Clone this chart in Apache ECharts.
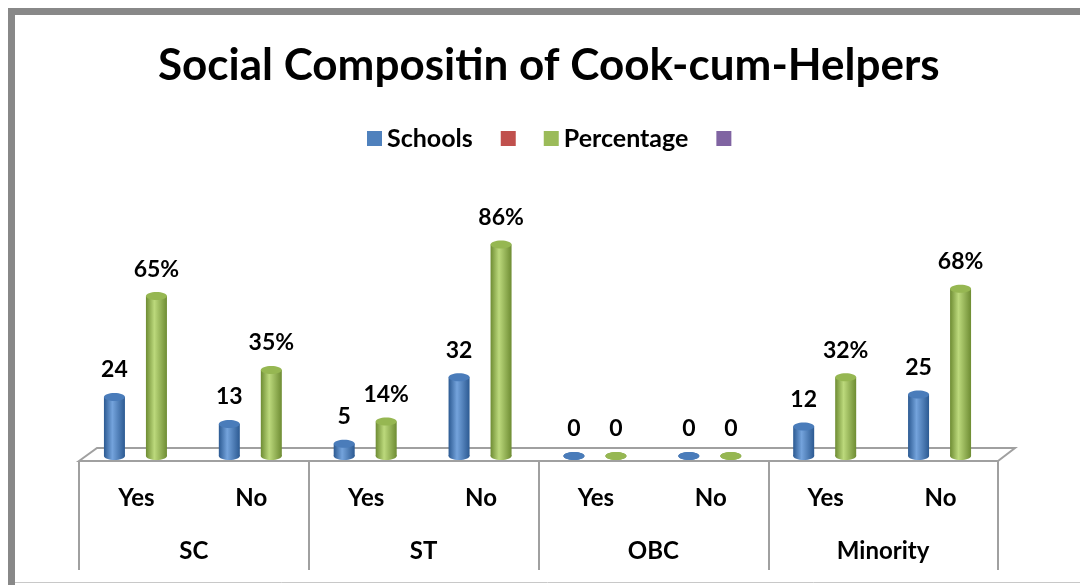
<!DOCTYPE html>
<html>
<head>
<meta charset="utf-8">
<script src="https://cdn.jsdelivr.net/npm/echarts@6/dist/echarts.min.js"></script>
<style>html,body{margin:0;padding:0;background:#fff;}#c{width:1080px;height:585px;}</style>
</head>
<body>
<div id="c"></div>
<script>
const groups = ['SC', 'ST', 'OBC', 'Minority'];
const subLabels = ['Yes', 'No', 'Yes', 'No', 'Yes', 'No', 'Yes', 'No'];
const schools = [24, 13, 5, 32, 0, 0, 12, 25];
const percentage = [65, 35, 14, 86, 0, 0, 32, 68];
const seriesNames = ['Schools', 'S2', 'Percentage', 'S4'];

const FONT = 'Lato';
const chart = echarts.init(document.getElementById('c'));

function cylinder(offset, dark, light, main, topColor, fmt) {
  return function (params, api) {
    const idx = api.value(0), v = api.value(1);
    const top = api.coord([idx, v]);
    const base = api.coord([idx, 0]);
    const w = 21, ry = 4;
    const x = top[0] + offset;
    const children = [];
    const grad = new echarts.graphic.LinearGradient(0, 0, 1, 0, [
      {offset: 0, color: dark}, {offset: 0.4, color: light}, {offset: 1, color: dark}
    ]);
    children.push({type: 'ellipse', shape: {cx: x, cy: base[1], rx: w / 2, ry: ry}, style: {fill: grad}});
    if (base[1] - top[1] > 0.5) {
      children.push({type: 'rect', shape: {x: x - w / 2, y: top[1], width: w, height: base[1] - top[1]}, style: {fill: grad}});
    }
    children.push({type: 'ellipse', shape: {cx: x, cy: top[1], rx: w / 2, ry: ry}, style: {fill: topColor}});
    children.push({type: 'text', style: {text: fmt(v), x: x, y: top[1] - 27, align: 'center', verticalAlign: 'middle',
      font: 'bold 23px ' + FONT, fill: '#000'}});
    return {type: 'group', children: children};
  };
}

const option = {
  animation: false,
  color: ['#4F81BD', '#C0504D', '#9BBB59', '#8064A2'],
  title: {
    text: 'Social Compositin of Cook-cum-Helpers',
    left: 153, top: 39,
    textStyle: {fontFamily: FONT, fontWeight: 'bold', fontSize: 44, color: '#000'}
  },
  legend: {
    data: seriesNames,
    top: 121, left: 362,
    icon: 'rect', itemWidth: 15, itemHeight: 15, itemGap: 28,
    formatter: function (n) { return (n === 'S2' || n === 'S4') ? '' : n; },
    textStyle: {fontFamily: FONT, fontWeight: 'bold', fontSize: 25, color: '#000'}
  },
  grid: {left: 79, right: 82, top: 210, bottom: 129},
  xAxis: [
    {type: 'category', data: subLabels, position: 'bottom',
      axisLine: {show: false}, axisTick: {show: false},
      axisLabel: {margin: 30, fontFamily: FONT, fontWeight: 'bold', fontSize: 24, color: '#000'}},
    {type: 'category', data: groups, position: 'bottom', offset: 5,
      axisLine: {show: false},
      axisTick: {show: true, length: 109, lineStyle: {color: '#a0a0a0', width: 2}},
      axisLabel: {margin: 78, fontFamily: FONT, fontWeight: 'bold', fontSize: 24, color: '#000'}}
  ],
  yAxis: {type: 'value', min: 0, max: 100, show: false, splitLine: {show: false}},
  graphic: [
    {type: 'rect', shape: {x: 8, y: 8, width: 1080, height: 7}, style: {fill: '#888888'}, z: 0},
    {type: 'rect', shape: {x: 8, y: 8, width: 7, height: 585}, style: {fill: '#888888'}, z: 0},
    {type: 'line', shape: {x1: 15, y1: 582.5, x2: 1080, y2: 582.5}, style: {stroke: '#c8c8c8', lineWidth: 1}, z: 0},
    {type: 'polygon', shape: {points: [[79, 461], [97, 448], [1015, 448], [998, 461]]},
      style: {fill: '#ffffff', stroke: '#a0a0a0', lineWidth: 2}, z: 0}
  ],
  series: [
    {name: 'Schools', type: 'custom', xAxisIndex: 0, z: 5,
      data: schools.map(function (v, i) { return [i, v]; }),
      encode: {x: 0, y: 1},
      renderItem: cylinder(-22, '#2c5a92', '#74a3dc', '#4F81BD', '#4a7cba', function (v) { return String(v); })},
    {name: 'S2', type: 'bar', data: []},
    {name: 'Percentage', type: 'custom', xAxisIndex: 0, z: 5,
      data: percentage.map(function (v, i) { return [i, v]; }),
      encode: {x: 0, y: 1},
      renderItem: cylinder(20, '#6e8c33', '#bcd97c', '#9BBB59', '#96b752', function (v) { return v === 0 ? '0' : v + '%'; })},
    {name: 'S4', type: 'bar', data: []}
  ]
};
chart.setOption(option);
</script>
</body>
</html>
